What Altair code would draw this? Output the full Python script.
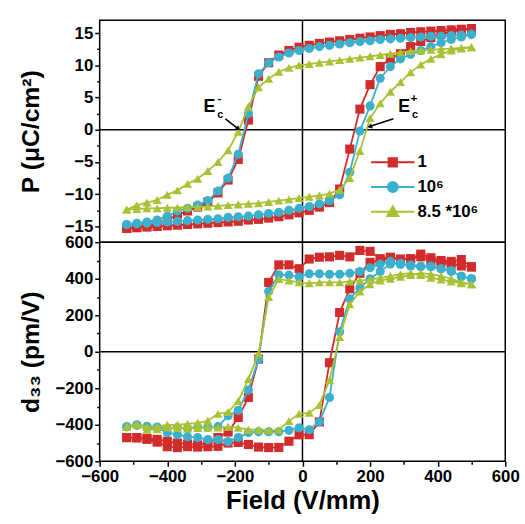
import altair as alt
import pandas as pd

# ---------------- data ----------------
E_up = [-520, -490, -460, -430, -400, -370, -340, -310, -280, -250, -220, -190, -160, -130,
        -100, -70, -40, -10, 20, 50, 80, 110, 140, 170, 200, 230, 260, 290, 320, 350, 380,
        410, 440, 470, 500]
E_down = E_up[::-1]

series_names = ["1", "10⁶", "8.5 *10⁶"]
colors = ["#d12b2b", "#3bb0cc", "#a8c234"]
shapes = ["square", "circle", "triangle-up"]

# Polarization (uC/cm2) – ascending field branch (E_up order)
P_up_1 = [-15.3, -15.2, -15.1, -15.0, -14.9, -14.8, -14.7, -14.6, -14.5, -14.4, -14.3, -14.2, -14.0, -13.9,
          -13.7, -13.5, -13.2, -12.9, -12.5, -12.0, -11.3, -9.2, -3.0, 3.2, 7.0, 9.8, 11.0, 11.8, 12.9, 13.7,
          14.3, 14.8, 15.2, 15.5, 15.7]
P_up_2 = [-14.7, -14.6, -14.5, -14.4, -14.3, -14.2, -14.1, -14.0, -13.9, -13.8, -13.6, -13.5, -13.4, -13.2,
          -13.0, -12.8, -12.5, -12.2, -11.9, -11.5, -11.0, -10.1, -6.6, -0.2, 3.7, 8.0, 9.8, 11.0, 11.7, 12.3,
          12.9, 13.5, 14.0, 14.4, 14.8]
P_up_3 = [-12.4, -12.3, -12.2, -12.2, -12.1, -12.1, -12.0, -12.0, -11.9, -11.8, -11.7, -11.6, -11.5, -11.4,
          -11.2, -11.0, -10.8, -10.6, -10.4, -10.2, -9.9, -9.3, -7.5, -3.3, 1.8, 4.1, 5.9, 7.4, 8.9, 10.1,
          11.0, 11.7, 12.3, 12.6, 12.8]
# descending field branch (E_down order)
P_down_1 = [15.7, 15.6, 15.5, 15.4, 15.3, 15.2, 15.1, 14.9, 14.8, 14.6, 14.4, 14.2, 14.0, 13.8, 13.6, 13.4,
            13.1, 12.8, 12.3, 11.6, 10.4, 8.3, 1.5, -4.6, -7.8, -9.8, -11.2, -12.0, -12.6, -13.2, -14.0,
            -14.6, -14.9, -15.1, -15.3]
P_down_2 = [14.8, 14.7, 14.6, 14.5, 14.5, 14.4, 14.3, 14.2, 14.1, 14.0, 13.8, 13.7, 13.5, 13.3, 13.1, 12.9,
            12.6, 12.3, 11.9, 11.3, 10.4, 8.7, 2.5, -3.8, -7.5, -9.5, -11.0, -11.7, -12.2, -12.6, -13.4,
            -14.0, -14.3, -14.5, -14.7]
P_down_3 = [12.8, 12.7, 12.6, 12.5, 12.4, 12.3, 12.2, 12.0, 11.8, 11.6, 11.4, 11.2, 11.0, 10.8, 10.6, 10.4,
            10.2, 10.0, 9.6, 9.0, 7.9, 6.6, 3.6, -0.3, -3.2, -5.0, -6.4, -7.6, -8.4, -9.4, -10.1,
            -10.9, -11.3, -11.7, -12.4]

# d33 (pm/V)
D_up_1 = [-470, -470, -480, -495, -520, -525, -520, -522, -520, -518, -500, -497, -508, -522, -525, -524,
          -490, -455, -454, -384, -60, 215, 345, 430, 490, 500, 515, 505, 510, 520, 500, 490, 480, 470, 465]
D_up_2 = [-411, -400, -416, -416, -443, -454, -465, -470, -481, -481, -492, -470, -443, -438, -438, -438,
          -430, -416, -427, -384, -250, 110, 290, 350, 400, 440, 480, 485, 470, 465, 470, 455, 440, 415, 400]
D_up_3 = [-411, -395, -427, -425, -415, -418, -420, -418, -415, -415, -411, -416, -427, -427, -430, -428,
          -380, -340, -335, -292, -155, 80, 260, 330, 370, 390, 400, 410, 420, 430, 425, 415, 400, 380, 370]
D_down_1 = [465, 505, 495, 500, 515, 535, 510, 508, 518, 510, 550, 555, 520, 528, 520, 518, 508, 455, 476,
            476, 380, -40, -250, -360, -440, -470, -500, -510, -505, -500, -490, -480, -475, -472, -470]
D_down_2 = [400, 411, 445, 455, 465, 470, 475, 478, 495, 480, 460, 440, 430, 425, 425, 427, 427, 410, 420,
            422, 330, -40, -210, -320, -350, -410, -415, -412, -420, -415, -420, -412, -408, -403, -411]
D_down_3 = [370, 375, 385, 395, 405, 420, 430, 425, 415, 405, 395, 390, 385, 380, 380, 380, 375, 380, 390,
            398, 300, -10, -150, -270, -330, -340, -378, -389, -395, -400, -400, -410, -410, -400, -411]

P_up = [P_up_1, P_up_2, P_up_3]
P_down = [P_down_1, P_down_2, P_down_3]
D_up = [D_up_1, D_up_2, D_up_3]
D_down = [D_down_1, D_down_2, D_down_3]

# axis tick values (major + minor)
x_ticks = [-600, -500, -400, -300, -200, -100, 0, 100, 200, 300, 400, 500, 600]
p_ticks = [-15, -12.5, -10, -7.5, -5, -2.5, 0, 2.5, 5, 7.5, 10, 12.5, 15]
d_ticks = [-600, -500, -400, -300, -200, -100, 0, 100, 200, 300, 400, 500, 600]

# coercive-field annotations
ec_E = [-275, 301]
ec_P = [3.5, 3.5]
ec_sign = ["-", "+"]
arrow_E = [-228, 269]
arrow_P = [1.7, 1.7]
arrow_E2 = [-190, 199]
arrow_P2 = [0.15, 0.5]
arrow_angle = [128, 252]

FONT = "Liberation Sans"


def series_frame(i):
    rows = []
    for k, (e, p, d) in enumerate(zip(E_up, P_up[i], D_up[i])):
        rows.append({"E": e, "P": p, "D": d, "order": k, "series": series_names[i]})
    for k, (e, p, d) in enumerate(zip(E_down, P_down[i], D_down[i])):
        rows.append({"E": e, "P": p, "D": d, "order": len(E_up) + k, "series": series_names[i]})
    return pd.DataFrame(rows)


frames = [series_frame(i) for i in range(3)]


def tick_size(step):
    return {"condition": {"test": f"abs(datum.value) % {step} === 0", "value": 5}, "value": 3}


def label_expr(step):
    return f"abs(datum.value) % {step} === 0 ? datum.label : ''"


x_scale = alt.Scale(domain=[-600, 600], nice=False, zero=False)
x_top = alt.X("E:Q", scale=x_scale, axis=None)
x_bot = alt.X("E:Q", scale=x_scale,
              axis=alt.Axis(values=x_ticks, title="Field (V/mm)", titleFontSize=26, titlePadding=4,
                            format="d", tickSize=tick_size(200), labelExpr=label_expr(200)))

y_top = alt.Y("P:Q", scale=alt.Scale(domain=[-17.45, 17.0], nice=False, zero=False),
              axis=alt.Axis(values=p_ticks, title="P (μC/cm²)", tickSize=tick_size(5),
                            labelExpr=label_expr(5),
                            titleFontSize=25, minExtent=41, maxExtent=41, titlePadding=16))
y_bot = alt.Y("D:Q", scale=alt.Scale(domain=[-600, 600], nice=False, zero=False),
              axis=alt.Axis(values=d_ticks, title="d₃₃ (pm/V)", tickSize=tick_size(200),
                            labelExpr=label_expr(200),
                            titleFontSize=25, minExtent=41, maxExtent=41, titlePadding=16))


def data_layers(xenc, yenc, yfield):
    layers = []
    layers.append(alt.Chart(pd.DataFrame({yfield: [0]})).mark_rule(color="black", strokeWidth=1.5)
                  .encode(y=yenc))
    layers.append(alt.Chart(pd.DataFrame({"E": [0]})).mark_rule(color="black", strokeWidth=1.5)
                  .encode(x=xenc))
    for i in range(3):
        layers.append(alt.Chart(frames[i]).mark_line(color=colors[i], strokeWidth=1.8)
                      .encode(x=xenc, y=yenc, order="order:Q"))
        layers.append(alt.Chart(frames[i]).mark_point(shape=shapes[i], filled=True, color=colors[i],
                                                      size=85, opacity=1)
                      .encode(x=xenc, y=yenc))
    return layers


# ---------- top panel ----------
top_layers = data_layers(x_top, y_top, "P")
ann = pd.DataFrame({"E": ec_E, "P": ec_P, "sign": ec_sign})
arr = pd.DataFrame({"E": arrow_E, "P": arrow_P, "E2": arrow_E2, "P2": arrow_P2})
head = pd.DataFrame({"E": arrow_E2, "P": arrow_P2, "ang": arrow_angle})
top_layers.append(alt.Chart(ann).mark_text(font=FONT, fontSize=18, fontWeight="bold", color="black")
                  .encode(x=x_top, y=y_top, text=alt.value("E")))
top_layers.append(alt.Chart(ann).mark_text(font=FONT, fontSize=11, fontWeight="bold", color="black",
                                           dx=11, dy=8)
                  .encode(x=x_top, y=y_top, text=alt.value("c")))
top_layers.append(alt.Chart(ann).mark_text(font=FONT, fontSize=12, fontWeight="bold", color="black",
                                           dx=10, dy=-9)
                  .encode(x=x_top, y=y_top, text="sign:N"))
top_layers.append(alt.Chart(arr).mark_rule(color="black", strokeWidth=1.5)
                  .encode(x=x_top, y=y_top, x2="E2:Q", y2="P2:Q"))
top_layers.append(alt.Chart(head).mark_point(shape="triangle-up", filled=True, color="black",
                                             size=30, opacity=1)
                  .encode(x=x_top, y=y_top, angle=alt.Angle("ang:Q", scale=None)))

# legend (library legend, built from the series names)
sq = "M-2.2,0H2.2M-0.42,-0.42H0.42V0.42H-0.42Z"
ci = "M-2.2,0H2.2M0.5,0A0.5,0.5,0,1,1,-0.5,0A0.5,0.5,0,1,1,0.5,0Z"
tr = "M-2.2,0H2.2M0,-0.55L0.55,0.45H-0.55Z"
leg = alt.Legend(title=None, orient="none", legendX=286, legendY=133, labelFont=FONT,
                 labelFontSize=17, labelFontWeight="bold", labelColor="black",
                 symbolSize=400, symbolStrokeWidth=2, labelOffset=14, rowPadding=5,
                 padding=0, symbolOpacity=1)
legdf = pd.DataFrame({"series": series_names, "E": [0, 0, 0], "P": [0, 0, 0]})
top_layers.append(alt.Chart(legdf).transform_filter("datum.E > 100000")
                  .mark_point(filled=True, opacity=1)
                  .encode(x=x_top, y=y_top,
                          fill=alt.Fill("series:N", scale=alt.Scale(domain=series_names, range=colors),
                                        legend=leg),
                          stroke=alt.Stroke("series:N", scale=alt.Scale(domain=series_names, range=colors),
                                            legend=leg),
                          shape=alt.Shape("series:N", scale=alt.Scale(domain=series_names, range=[sq, ci, tr]),
                                          legend=leg)))

top = alt.layer(*top_layers).properties(width=411, height=225)

# ---------- bottom panel ----------
bottom = alt.layer(*data_layers(x_bot, y_bot, "D")).properties(width=411, height=222)

chart = (alt.vconcat(top, bottom, spacing=0, bounds="flush")
         .resolve_legend(fill="independent", stroke="independent", shape="independent")
         .resolve_scale(fill="independent", stroke="independent", shape="independent")
         .properties(padding={"left": 18, "top": 15, "right": 5, "bottom": 1}, background="white")
         .configure_axis(labelFont=FONT, labelFontWeight="bold", labelFontSize=17, labelColor="black",
                         titleFont=FONT, titleFontWeight="bold", titleColor="black",
                         tickColor="black", tickWidth=1.5, labelPadding=2, labelFlush=False,
                         labelOverlap=False, domain=False, grid=False)
         .configure_view(stroke="black", strokeWidth=1.5))

chart.save("out.html", embed_options={"renderer": "svg", "actions": False})
